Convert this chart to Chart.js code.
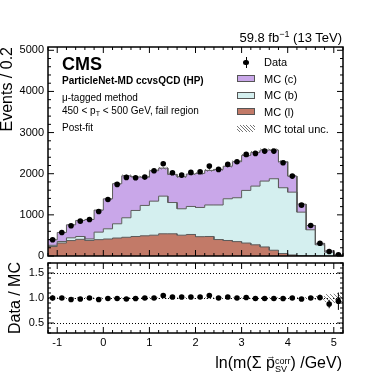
<!DOCTYPE html>
<html>
<head>
<meta charset="utf-8">
<script src="https://cdn.jsdelivr.net/npm/chart.js@4.4.0/dist/chart.umd.min.js"></script>
<style>
body{margin:0;background:#fff}
#wrap{position:relative;width:381px;height:381px;overflow:hidden;background:#fff;font-family:"Liberation Sans",Arial,Helvetica,sans-serif;color:#000}
canvas{position:absolute;left:0;top:0}
.t{position:absolute;white-space:nowrap;line-height:1}
.sw{position:absolute;left:237px;width:18px;height:7px;box-sizing:border-box;border:1px solid #555}
</style>
</head>
<body>
<div id="wrap">
<canvas id="main" width="381" height="381"></canvas>
<canvas id="ratio" width="381" height="381"></canvas>

<div class="t" style="right:39px;top:30.5px;font-size:13px">59.8 fb<span style="font-size:9px;position:relative;top:-5px">−1</span> (13 TeV)</div>
<div class="t" style="left:62px;top:54.5px;font-size:18px;font-weight:bold">CMS</div>
<div class="t" style="left:62px;top:76px;font-size:10px;font-weight:bold">ParticleNet-MD ccvsQCD (HP)</div>
<div class="t" style="left:62px;top:92.5px;font-size:10px">μ-tagged method</div>
<div class="t" style="left:62px;top:106px;font-size:10px">450 &lt; p<span style="font-size:7px;position:relative;top:2px">T</span> &lt; 500 GeV, fail region</div>
<div class="t" style="left:62px;top:122.5px;font-size:10px">Post-fit</div>

<div style="position:absolute;left:245.5px;top:57px;width:1px;height:11px;background:#000"></div>
<div style="position:absolute;left:243.2px;top:59.6px;width:5.6px;height:5.6px;border-radius:50%;background:#000"></div>
<div class="t" style="left:264px;top:57px;font-size:11px">Data</div>
<div class="sw" style="top:75px;background:#c9a7e9"></div>
<div class="t" style="left:264px;top:73.6px;font-size:11px">MC (c)</div>
<div class="sw" style="top:91.7px;background:#d4efef"></div>
<div class="t" style="left:264px;top:90.3px;font-size:11px">MC (b)</div>
<div class="sw" style="top:108.3px;background:#c27a68"></div>
<div class="t" style="left:264px;top:107px;font-size:11px">MC (l)</div>
<div style="position:absolute;left:237px;top:125px;width:18px;height:7px;background:repeating-linear-gradient(45deg,#fff 0,#fff 1.6px,#777 1.6px,#777 2.4px)"></div>
<div class="t" style="left:264px;top:123.6px;font-size:11px">MC total unc.</div>

<div class="t" style="right:39px;top:354.5px;font-size:16px">ln(m(Σ <span style="position:relative;display:inline-block">p<span style="position:absolute;left:0.5px;top:-2.5px;font-size:9px;line-height:1">→</span></span><span style="display:inline-block;vertical-align:-4px;font-size:9px;line-height:8px">corr<br>SV</span>) /GeV)</div>
</div>

<script>
// bins of ln(m_SV^corr / GeV), width 0.2
const binCenters = [-1.1, -0.9, -0.7, -0.5, -0.3, -0.1, 0.1, 0.3, 0.5, 0.7, 0.9, 1.1, 1.3, 1.5, 1.7, 1.9,
                    2.1, 2.3, 2.5, 2.7, 2.9, 3.1, 3.3, 3.5, 3.7, 3.9, 4.1, 4.3, 4.5, 4.7, 4.9, 5.1]
const binWidth = 0.2

const dataVals = [394, 572, 735, 847, 888, 1083, 1375, 1740, 1910, 1902, 1918, 2073, 2243, 2024, 1966, 2032,
                  2048, 2185, 2105, 2226, 2292, 2470, 2494, 2550, 2550, 2268, 1942, 1236, 742, 311, 109, 29]
const mcL = [230, 316, 375, 405, 378, 398, 413, 437, 455, 474, 491, 506, 540, 540, 506, 523,
             470, 474, 400, 377, 350, 315, 272, 220, 140, 60, 25, 8, 4, 2, 1, 0]
const mcB = [30, 37, 67, 69, 37, 182, 248, 346, 474, 633, 738, 827, 915, 760, 642, 681,
             710, 766, 840, 1014, 1066, 1279, 1427, 1601, 1738, 1599, 1527, 1058, 633, 270, 92, 12]
const mcC = [134, 219, 316, 390, 473, 536, 728, 975, 1020, 814, 689, 740, 681, 684, 779, 788,
             828, 841, 865, 791, 876, 852, 820, 755, 698, 632, 390, 195, 105, 36, 31, 19]
// relative MC total uncertainty
const uncRel = [0.015, 0.015, 0.015, 0.015, 0.015, 0.015, 0.015, 0.015, 0.015, 0.015, 0.015, 0.015, 0.015, 0.015, 0.015, 0.015,
                0.015, 0.015, 0.015, 0.015, 0.015, 0.015, 0.015, 0.015, 0.015, 0.015, 0.015, 0.02, 0.02, 0.04, 0.08, 0.1]

const mainYTicks = [0, 1000, 2000, 3000, 4000, 5000]
const ratioYTicks = [0.5, 1.0, 1.5]
const xTicks = [-1, 0, 1, 2, 3, 4, 5]

const colC = '#c9a7e9'
const colB = '#d4efef'
const colL = '#c27a68'
const edge = '#5c5c5c'

Chart.defaults.font.family = '"Liberation Sans", Arial, Helvetica, sans-serif'
Chart.defaults.color = '#000'

const mcLB = mcL.map((v, i) => v + mcB[i])
const mcTotal = mcLB.map((v, i) => v + mcC[i])
const ratio = dataVals.map((d, i) => d / mcTotal[i])

function steps(vals) {
    let pts = []
    vals.forEach((v, i) => {
        pts.push({x: binCenters[i] - binWidth / 2, y: v})
        pts.push({x: binCenters[i] + binWidth / 2, y: v})
    })
    return pts
}

function makeHatch() {
    const c = document.createElement('canvas')
    c.width = 4; c.height = 4
    const p = c.getContext('2d')
    p.strokeStyle = '#666'
    p.lineWidth = 0.8
    p.beginPath()
    p.moveTo(0, 0); p.lineTo(4, 4)
    p.moveTo(-1, 3); p.lineTo(1, 5)
    p.moveTo(3, -1); p.lineTo(5, 1)
    p.stroke()
    return p.createPattern(c, 'repeat')
}
const hatch = makeHatch()

function isMajor(v, step) {
    const r = v / step
    return Math.abs(r - Math.round(r)) < 1e-6
}

const framePlugin = {
    id: 'frame',
    beforeDatasetsDraw(chart) {
        const o = chart.options.plugins.frame
        if (!o.refLines) return
        const {ctx, chartArea: a, scales: {y}} = chart
        ctx.save()
        ctx.strokeStyle = '#000'
        ctx.lineWidth = 1
        ctx.setLineDash([1, 2])
        o.refLines.forEach(v => {
            const py = Math.round(y.getPixelForValue(v)) + 0.5
            ctx.beginPath()
            ctx.moveTo(a.left, py)
            ctx.lineTo(a.right, py)
            ctx.stroke()
        })
        ctx.restore()
    },
    afterDraw(chart) {
        const o = chart.options.plugins.frame
        const {ctx, chartArea: a, scales: {x, y}} = chart
        ctx.save()
        ctx.strokeStyle = '#000'
        ctx.lineWidth = 1
        ctx.beginPath()
        const nx = Math.round((x.max - x.min) / o.xMinor)
        for (let k = 0; k <= nx; k++) {
            const v = x.min + k * o.xMinor
            const len = isMajor(v, o.xMajor) ? o.major : o.minor
            const px = x.getPixelForValue(v)
            ctx.moveTo(px, a.bottom); ctx.lineTo(px, a.bottom - len)
            ctx.moveTo(px, a.top); ctx.lineTo(px, a.top + len)
        }
        const ny = Math.floor((y.max - o.yStart) / o.yMinor + 1e-6)
        for (let k = 0; k <= ny; k++) {
            const v = o.yStart + k * o.yMinor
            const len = isMajor(v, o.yMajor) ? o.major : o.minor
            const py = y.getPixelForValue(v)
            ctx.moveTo(a.left, py); ctx.lineTo(a.left + len, py)
            ctx.moveTo(a.right, py); ctx.lineTo(a.right - len, py)
        }
        ctx.stroke()
        ctx.lineWidth = 1.5
        ctx.strokeRect(a.left, a.top, a.right - a.left, a.bottom - a.top)
        ctx.restore()
    }
}

const errPlugin = {
    id: 'errbars',
    afterDatasetsDraw(chart) {
        const o = chart.options.plugins.errbars
        const {ctx, chartArea: a, scales: {x, y}} = chart
        ctx.save()
        ctx.beginPath()
        ctx.rect(a.left, a.top, a.right - a.left, a.bottom - a.top)
        ctx.clip()
        ctx.strokeStyle = '#000'
        ctx.lineWidth = 1
        ctx.beginPath()
        o.values.forEach((v, i) => {
            const px = x.getPixelForValue(binCenters[i])
            ctx.moveTo(px, y.getPixelForValue(v - o.errors[i]))
            ctx.lineTo(px, y.getPixelForValue(v + o.errors[i]))
        })
        ctx.stroke()
        ctx.restore()
    }
}

const noGrid = {display: false, drawTicks: false}
const noBorder = {display: false}

new Chart(document.getElementById('main'), {
    type: 'line',
    data: {
        datasets: [
            {data: binCenters.map((c, i) => ({x: c, y: dataVals[i]})), showLine: false,
             pointRadius: 2.8, pointBackgroundColor: '#000', pointBorderWidth: 0},
            {data: steps(mcTotal.map((t, i) => t * (1 - uncRel[i]))), pointRadius: 0,
             borderColor: 'transparent', borderWidth: 0, fill: false},
            {data: steps(mcTotal.map((t, i) => t * (1 + uncRel[i]))), pointRadius: 0,
             borderColor: 'transparent', borderWidth: 0, fill: '-1', backgroundColor: hatch},
            {data: steps(mcL), fill: 'origin', backgroundColor: colL, borderColor: edge, borderWidth: 1, pointRadius: 0},
            {data: steps(mcLB), fill: '-1', backgroundColor: colB, borderColor: edge, borderWidth: 1, pointRadius: 0},
            {data: steps(mcTotal), fill: '-1', backgroundColor: colC, borderColor: edge, borderWidth: 1, pointRadius: 0}
        ]
    },
    options: {
        responsive: false,
        animation: false,
        events: [],
        layout: {padding: {top: 47, right: 38, left: 0, bottom: 0}},
        plugins: {
            legend: {display: false},
            tooltip: {enabled: false},
            frame: {xMinor: 0.2, xMajor: 1, yStart: 0, yMinor: 200, yMajor: 1000, major: 6, minor: 3},
            errbars: {values: dataVals, errors: dataVals.map(Math.sqrt)}
        },
        scales: {
            x: {type: 'linear', min: -1.2, max: 5.2, grid: noGrid, border: noBorder,
                ticks: {display: false}, afterFit: a => { a.height = 125 }},
            y: {min: 0, max: 5080, grid: noGrid, border: noBorder,
                afterBuildTicks: a => { a.ticks = mainYTicks.map(v => ({value: v})) },
                ticks: {font: {size: 11}, padding: 4, callback: v => String(v)},
                afterFit: a => { a.width = 48 },
                title: {display: true, text: 'Events / 0.2', align: 'end', font: {size: 16, lineHeight: 1}, padding: 0}}
        }
    },
    plugins: [framePlugin, errPlugin]
})

new Chart(document.getElementById('ratio'), {
    type: 'line',
    data: {
        datasets: [
            {data: binCenters.map((c, i) => ({x: c, y: ratio[i]})), showLine: false,
             pointRadius: 2.8, pointBackgroundColor: '#000', pointBorderWidth: 0},
            {data: steps(uncRel.map(u => 1 - u)), pointRadius: 0, borderColor: 'transparent', borderWidth: 0, fill: false},
            {data: steps(uncRel.map(u => 1 + u)), pointRadius: 0, borderColor: 'transparent', borderWidth: 0,
             fill: '-1', backgroundColor: hatch}
        ]
    },
    options: {
        responsive: false,
        animation: false,
        events: [],
        layout: {padding: {top: 263, right: 38, left: 0, bottom: 0}},
        plugins: {
            legend: {display: false},
            tooltip: {enabled: false},
            frame: {xMinor: 0.2, xMajor: 1, yStart: 0.3, yMinor: 0.1, yMajor: 0.5, major: 6, minor: 3, refLines: ratioYTicks},
            errbars: {values: ratio, errors: dataVals.map((d, i) => Math.sqrt(d) / mcTotal[i])}
        },
        scales: {
            x: {type: 'linear', min: -1.2, max: 5.2, grid: noGrid, border: noBorder,
                afterBuildTicks: a => { a.ticks = xTicks.map(v => ({value: v})) },
                ticks: {font: {size: 11}, padding: 3},
                afterFit: a => { a.height = 48 }},
            y: {min: 0.3, max: 1.7, grid: noGrid, border: noBorder,
                afterBuildTicks: a => { a.ticks = ratioYTicks.map(v => ({value: v})) },
                ticks: {font: {size: 11}, padding: 4, callback: v => v.toFixed(1)},
                afterFit: a => { a.width = 48 },
                title: {display: true, text: 'Data / MC', align: 'center', font: {size: 16, lineHeight: 1}, padding: {top: 8, bottom: 0}}}
        }
    },
    plugins: [framePlugin, errPlugin]
})
</script>
</body>
</html>
